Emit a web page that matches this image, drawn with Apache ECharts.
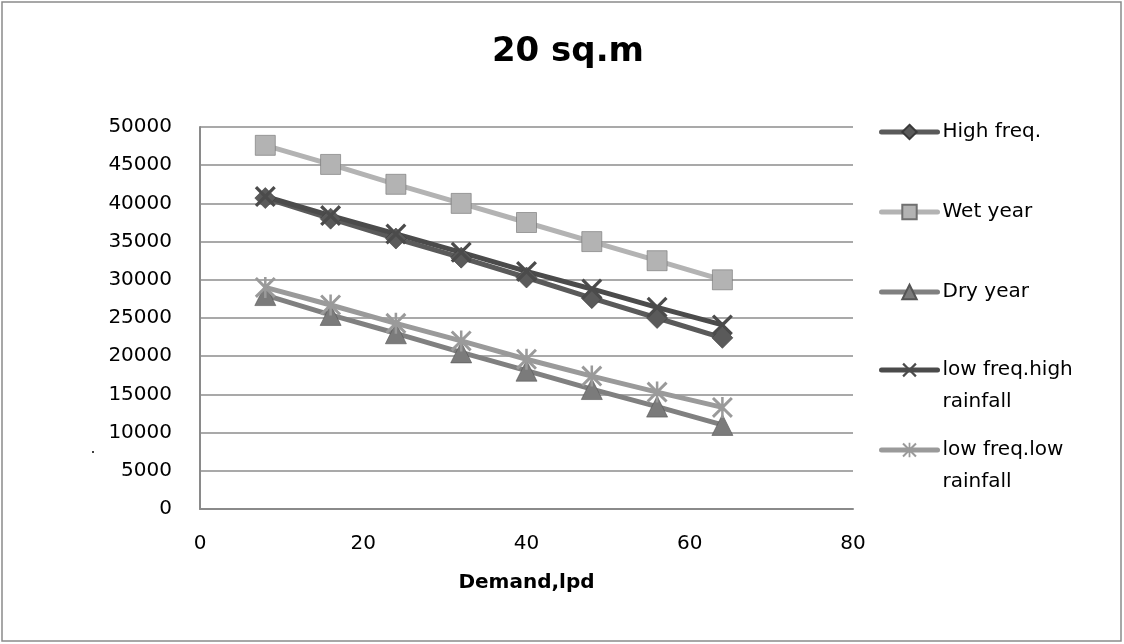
<!DOCTYPE html>
<html>
<head>
<meta charset="utf-8">
<script src="https://cdn.jsdelivr.net/npm/echarts@6/dist/echarts.min.js"></script>
<style>
html,body{margin:0;padding:0;background:#fff;}
#chart{width:1124px;height:644px;}
</style>
</head>
<body>
<div id="chart"></div>
<script>
const titleText = '20 sq.m';
const xAxisName = 'Demand,lpd';
const demand = [8, 16, 24, 32, 40, 48, 56, 64];
const highFreq = [40700, 38000, 35400, 32900, 30300, 27600, 25000, 22400];
const wetYear = [47600, 45100, 42500, 40000, 37500, 35000, 32500, 30000];
const dryYear = [28000, 25400, 23000, 20500, 18100, 15700, 13400, 11000];
const lowFreqHigh = [40900, 38400, 36000, 33600, 31100, 28800, 26400, 24100];
const lowFreqLow = [29000, 26700, 24300, 22000, 19600, 17400, 15300, 13300];
const seriesNames = ['High freq.', 'Wet year', 'Dry year', 'low freq.high rainfall', 'low freq.low rainfall'];

const xPath = 'path://M0,1.1L1.1,0L5,3.9L8.9,0L10,1.1L6.1,5L10,8.9L8.9,10L5,6.1L1.1,10L0,8.9L3.9,5Z';
const starPath = 'path://M0,1L1,0L5,4L9,0L10,1L6,5L10,9L9,10L5,6L1,10L0,9L4,5Z M4.4,0L5.6,0L5.6,10L4.4,10Z';

function pairs(vals) { return demand.map((d, i) => [d, vals[i]]); }

const FONT = 'DejaVu Sans';

function mkLegend(name, center, twoLine) {
  return {
    data: [name],
    left: 879,
    top: twoLine ? center - 48 : center - 16,
    orient: 'vertical',
    itemWidth: 56,
    itemHeight: 18,
    itemGap: 0,
    padding: 0,
    selectedMode: false,
    lineStyle: {width: 5, cap: 'round'},
    formatter: n => twoLine ? ' \n' + n.replace(' rainfall', '\nrainfall') : n,
    textStyle: {
      fontFamily: FONT, fontSize: 20, color: '#000',
      lineHeight: 32
    }
  };
}

const chart = echarts.init(document.getElementById('chart'), null, {renderer: 'canvas'});
chart.setOption({
  animation: false,
  backgroundColor: '#fff',
  title: {
    text: titleText,
    left: 563, top: 30,
    textAlign: 'center',
    textStyle: {fontFamily: FONT, fontWeight: 'bold', fontSize: 34, color: '#000'}
  },
  legend: [
    mkLegend(seriesNames[0], 132, false),
    mkLegend(seriesNames[1], 212, false),
    mkLegend(seriesNames[2], 292, false),
    mkLegend(seriesNames[3], 370, true),
    mkLegend(seriesNames[4], 450, true)
  ],
  grid: {left: 200, right: 271, top: 127, bottom: 135},
  xAxis: {
    type: 'value', min: 0, max: 80, interval: 20,
    name: xAxisName, nameLocation: 'middle', nameGap: 64,
    nameTextStyle: {fontFamily: FONT, fontWeight: 'bold', fontSize: 20, color: '#000'},
    axisLine: {show: true, lineStyle: {color: '#8a8a8a', width: 2}},
    axisTick: {show: false},
    splitLine: {show: false},
    axisLabel: {fontFamily: FONT, fontSize: 20, color: '#000', margin: 25}
  },
  yAxis: {
    type: 'value', min: 0, max: 50000, interval: 5000,
    axisLine: {show: true, lineStyle: {color: '#8a8a8a', width: 2}},
    axisTick: {show: false},
    splitLine: {show: true, lineStyle: {color: '#8c8c8c', width: 1.5}},
    axisLabel: {fontFamily: FONT, fontSize: 20, color: '#000', margin: 28, formatter: v => String(v)}
  },
  series: [
    {
      name: seriesNames[0], type: 'line', data: pairs(highFreq),
      symbol: 'diamond', symbolSize: 21,
      lineStyle: {color: '#5a5a5a', width: 5},
      itemStyle: {color: '#5a5a5a', borderColor: '#3a3a3a', borderWidth: 0.6}
    },
    {
      name: seriesNames[1], type: 'line', data: pairs(wetYear),
      symbol: 'rect', symbolSize: 20,
      lineStyle: {color: '#b3b3b3', width: 5},
      itemStyle: {color: '#b3b3b3', borderColor: '#707070', borderWidth: 0.6}
    },
    {
      name: seriesNames[2], type: 'line', data: pairs(dryYear),
      symbol: 'triangle', symbolSize: 21,
      lineStyle: {color: '#808080', width: 5},
      itemStyle: {color: '#7b7b7b', borderColor: '#555', borderWidth: 0.6}
    },
    {
      name: seriesNames[3], type: 'line', data: pairs(lowFreqHigh),
      symbol: xPath, symbolSize: 21,
      lineStyle: {color: '#4b4b4b', width: 5},
      itemStyle: {color: '#4b4b4b'}
    },
    {
      name: seriesNames[4], type: 'line', data: pairs(lowFreqLow),
      symbol: starPath, symbolSize: 21,
      lineStyle: {color: '#9a9a9a', width: 5},
      itemStyle: {color: '#9a9a9a'}
    }
  ],
  graphic: [
    {type: 'rect', shape: {x: 2, y: 2, width: 1119, height: 639}, style: {fill: 'none', stroke: '#8a8a8a', lineWidth: 1.5}, silent: true, z: -1},
    {type: 'circle', shape: {cx: 93, cy: 452, r: 1}, style: {fill: '#000'}, silent: true}
  ]
});
</script>
</body>
</html>
